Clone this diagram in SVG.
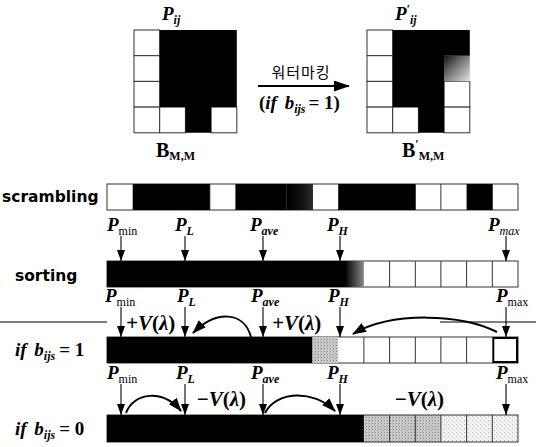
<svg xmlns="http://www.w3.org/2000/svg" width="536" height="447" viewBox="0 0 536 447">
<style>
.cell{fill:#fff;stroke:#333;stroke-width:1}
.blk{fill:#000}
.pl{font-family:"Liberation Serif",serif;font-weight:bold;font-style:italic;font-size:19px;fill:#000}
.sr{font-style:normal;font-weight:normal;font-size:12px}
.si{font-size:12px}
.row{font-family:"DejaVu Sans","Liberation Sans",sans-serif;font-weight:bold;font-size:15.5px;fill:#000}
.vl{font-family:"Liberation Serif",serif;font-weight:bold;font-style:italic;font-size:21px;fill:#000}
.up{font-style:normal}
.kr{font-family:"Noto Sans CJK KR","Noto Sans",sans-serif;font-size:15px;fill:#000}
.bm{font-family:"Liberation Serif",serif;font-weight:bold;font-size:20px;fill:#000}
.bms{font-size:12px}
.con line,.con path{stroke:#000;stroke-width:1.1;fill:none}
.con .cv{stroke-width:2}
.sep{stroke:#555;stroke-width:1}
</style>
<defs>
<marker id="ah" markerUnits="userSpaceOnUse" markerWidth="8" markerHeight="11" refX="4" refY="11" orient="0" viewBox="0 0 8 11">
<path d="M0,0 L8,0 L4,11 Z" fill="#000"/>
</marker>
<marker id="ac" markerUnits="userSpaceOnUse" markerWidth="14" markerHeight="10" refX="13" refY="5" orient="auto" viewBox="0 0 14 10">
<path d="M0,0 L14,5 L0,10 Z" fill="#000"/>
</marker>
<marker id="abig" markerUnits="userSpaceOnUse" markerWidth="16" markerHeight="11" refX="15" refY="5.5" orient="auto" viewBox="0 0 16 11">
<path d="M0,0 L16,5.5 L0,11 Z" fill="#000"/>
</marker>
<linearGradient id="gcell" x1="0" y1="0" x2="1" y2="1">
<stop offset="0" stop-color="#111"/>
<stop offset="0.45" stop-color="#777"/>
<stop offset="1" stop-color="#e4e4e4"/>
</linearGradient>
<linearGradient id="gsort" x1="0" y1="0" x2="1" y2="0">
<stop offset="0" stop-color="#000"/>
<stop offset="1" stop-color="#8a8a8a"/>
</linearGradient>
<linearGradient id="gscr" x1="0" y1="0" x2="1" y2="0">
<stop offset="0" stop-color="#000"/>
<stop offset="0.6" stop-color="#111"/>
<stop offset="1" stop-color="#2e2e2e"/>
</linearGradient>
<pattern id="dmid" width="3" height="3" patternUnits="userSpaceOnUse">
<rect width="3" height="3" fill="#cfcfcf"/>
<rect width="1" height="1" fill="#7a7a7a"/>
<rect x="2" y="1.5" width="1" height="1" fill="#9a9a9a"/>
</pattern>
<pattern id="dlight" width="4" height="4" patternUnits="userSpaceOnUse">
<rect width="4" height="4" fill="#f3f3f3"/>
<rect width="1" height="1" fill="#b5b5b5"/>
<rect x="2" y="2" width="1" height="1" fill="#cccccc"/>
</pattern>
</defs>
<rect width="536" height="447" fill="#fff"/>

<g id="grid-left">
<rect class="cell" x="134" y="30" width="25.7" height="25.7"/>
<rect class="cell" x="134" y="55.7" width="25.7" height="25.7"/>
<rect class="cell" x="134" y="81.4" width="25.7" height="25.7"/>
<rect class="cell" x="134" y="107.1" width="25.7" height="25.7"/>
<rect class="cell" x="159.7" y="107.1" width="25.7" height="25.7"/>
<rect class="cell" x="211.1" y="107.1" width="25.7" height="25.7"/>
<path class="blk" d="M159.7 30 H236.8 V107.1 H211.1 V132.8 H185.4 V107.1 H159.7 Z"/>
<text class="pl" x="162" y="20">P<tspan class="si" dy="4">ij</tspan></text>
<text class="bm" x="156" y="157">B<tspan class="bms" dy="3">M,M</tspan></text>
</g>

<g id="watermark-label">
<text class="kr" x="301" y="78" text-anchor="middle" letter-spacing="1">워터마킹</text>
<text class="pl" x="259" y="109"><tspan class="up">(</tspan>if <tspan dx="3">b</tspan><tspan class="si" dy="4">ijs</tspan><tspan class="up" dy="-4" dx="3">= 1)</tspan></text>
</g>

<g id="grid-right">
<rect class="cell" x="367" y="30" width="25.7" height="25.7"/>
<rect class="cell" x="367" y="55.7" width="25.7" height="25.7"/>
<rect class="cell" x="367" y="81.4" width="25.7" height="25.7"/>
<rect class="cell" x="367" y="107.1" width="25.7" height="25.7"/>
<rect class="cell" x="392.7" y="107.1" width="25.7" height="25.7"/>
<rect class="cell" x="444.1" y="81.4" width="25.7" height="25.7"/>
<rect class="cell" x="444.1" y="107.1" width="25.7" height="25.7"/>
<rect x="444.1" y="55.7" width="25.7" height="25.7" fill="url(#gcell)"/>
<path class="blk" d="M392.7 30 H469.8 V55.7 H444.1 V132.8 H418.4 V107.1 H392.7 Z"/>
<text class="pl" x="395" y="20">P<tspan class="si" dy="-7">′</tspan><tspan class="si" dy="11">ij</tspan></text>
<text class="bm" x="402" y="157">B<tspan class="bms" dy="-9">′</tspan><tspan class="bms" dy="12">M,M</tspan></text>
</g>

<g id="row-scrambling">
<text class="row" x="2" y="202">scrambling</text>
<rect class="cell" x="107" y="184" width="411" height="26"/>
<path stroke="#333" stroke-width="1" d="M209.8 184V210M312.5 184V210M415.3 184V210M440.9 184V210M492.3 184V210"/>
<rect class="blk" x="132.7" y="184" width="77.1" height="26"/>
<rect class="blk" x="235.4" y="184" width="51.4" height="26"/>
<rect x="286.8" y="184" width="25.7" height="26" fill="url(#gscr)"/>
<rect class="blk" x="338.2" y="184" width="77.1" height="26"/>
<rect class="blk" x="466.6" y="184" width="25.7" height="26"/>
</g>

<g id="row-sorting">
<text class="row" x="15" y="281">sorting</text>
<rect class="cell" x="107" y="261" width="411" height="26"/>
<path stroke="#333" stroke-width="1" d="M389.6 261V287M415.3 261V287M440.9 261V287M466.6 261V287M492.3 261V287"/>
<rect class="blk" x="107" y="261" width="238" height="26"/>
<rect x="345" y="261" width="18.9" height="26" fill="url(#gsort)"/>
</g>

<g id="row-b1">
<text class="pl" x="15" y="356">if <tspan dx="3">b</tspan><tspan class="si" dy="4">ijs</tspan><tspan class="up" dy="-4" dx="4">= 1</tspan></text>
<rect class="cell" x="107" y="337" width="411" height="26"/>
<path stroke="#333" stroke-width="1" d="M363.9 337V363M389.6 337V363M415.3 337V363M440.9 337V363M466.6 337V363"/>
<rect class="blk" x="107" y="337" width="205.5" height="26"/>
<rect x="312.5" y="337" width="25.7" height="26" fill="url(#dmid)"/>
<rect x="493.3" y="338" width="23.7" height="24" fill="none" stroke="#000" stroke-width="2"/>
</g>

<g id="row-b0">
<text class="pl" x="15" y="435">if <tspan dx="3">b</tspan><tspan class="si" dy="4">ijs</tspan><tspan class="up" dy="-4" dx="4">= 0</tspan></text>
<rect x="363.9" y="415" width="77" height="27" fill="url(#dmid)"/>
<rect x="440.9" y="415" width="77.1" height="27" fill="url(#dlight)"/>
<rect x="107" y="415" width="411" height="27" fill="none" stroke="#333"/>
<path stroke="#333" stroke-width="1" d="M389.6 415V442M415.3 415V442M440.9 415V442M466.6 415V442M492.3 415V442"/>
<rect class="blk" x="107" y="415" width="256.9" height="27"/>
</g>

<g id="labels-1">
<text class="pl" x="107" y="231">P<tspan class="sr" dy="4">min</tspan></text>
<text class="pl" x="175" y="231">P<tspan class="si" dy="4">L</tspan></text>
<text class="pl" x="250" y="231">P<tspan class="si" dy="4">ave</tspan></text>
<text class="pl" x="327" y="231">P<tspan class="si" dy="4">H</tspan></text>
<text class="pl" x="488" y="231">P<tspan class="si" dy="4" font-weight="normal">max</tspan></text>
</g>

<g id="labels-2">
<text class="pl" x="105" y="302">P<tspan class="sr" dy="4">min</tspan></text>
<text class="pl" x="177" y="302">P<tspan class="si" dy="4">L</tspan></text>
<text class="pl" x="251" y="302">P<tspan class="si" dy="4">ave</tspan></text>
<text class="pl" x="328" y="302">P<tspan class="si" dy="4">H</tspan></text>
<text class="pl" x="496" y="302">P<tspan class="sr" dy="4">max</tspan></text>
<text class="vl" x="126" y="330">+V<tspan class="up">(</tspan>λ<tspan class="up">)</tspan></text>
<text class="vl" x="272" y="330">+V<tspan class="up">(</tspan>λ<tspan class="up">)</tspan></text>
</g>

<g id="labels-3">
<text class="pl" x="107" y="379">P<tspan class="sr" dy="4">min</tspan></text>
<text class="pl" x="176" y="379">P<tspan class="si" dy="4">L</tspan></text>
<text class="pl" x="251" y="379">P<tspan class="si" dy="4">ave</tspan></text>
<text class="pl" x="327" y="379">P<tspan class="si" dy="4">H</tspan></text>
<text class="pl" x="496" y="379">P<tspan class="sr" dy="4">max</tspan></text>
<text class="vl" x="196" y="406">−V<tspan class="up">(</tspan>λ<tspan class="up">)</tspan></text>
<text class="vl" x="394" y="406">−V<tspan class="up">(</tspan>λ<tspan class="up">)</tspan></text>
</g>

<g id="connectors" class="con">
<line class="sep" x1="0" y1="322" x2="107" y2="322"/>
<line class="sep" x1="440" y1="322" x2="536" y2="322"/>
<line class="cv" x1="258" y1="86" x2="349" y2="86" marker-end="url(#abig)"/>
<line x1="121" y1="236" x2="121" y2="261" marker-end="url(#ah)"/>
<line x1="185" y1="236" x2="185" y2="261" marker-end="url(#ah)"/>
<line x1="263" y1="236" x2="263" y2="261" marker-end="url(#ah)"/>
<line x1="340" y1="236" x2="340" y2="261" marker-end="url(#ah)"/>
<line x1="506" y1="236" x2="506" y2="261" marker-end="url(#ah)"/>
<line x1="121" y1="307" x2="121" y2="337" marker-end="url(#ah)"/>
<line x1="185" y1="307" x2="185" y2="337" marker-end="url(#ah)"/>
<line x1="263" y1="307" x2="263" y2="337" marker-end="url(#ah)"/>
<line x1="340" y1="307" x2="340" y2="337" marker-end="url(#ah)"/>
<line x1="506" y1="307" x2="506" y2="337" marker-end="url(#ah)"/>
<line x1="121" y1="384" x2="121" y2="415" marker-end="url(#ah)"/>
<line x1="185" y1="384" x2="185" y2="415" marker-end="url(#ah)"/>
<line x1="263" y1="384" x2="263" y2="415" marker-end="url(#ah)"/>
<line x1="340" y1="384" x2="340" y2="415" marker-end="url(#ah)"/>
<line x1="506" y1="384" x2="506" y2="415" marker-end="url(#ah)"/>
<path class="cv" d="M251 337 C244 311 216 310 193 333" marker-end="url(#ac)"/>
<path class="cv" d="M497 332 C462 314 392 311 353 334" marker-end="url(#ac)"/>
<path class="cv" d="M126 413 C134 392 163 389 181 411" marker-end="url(#ac)"/>
<path class="cv" d="M265 413 C276 391 313 389 335 411" marker-end="url(#ac)"/>
</g>
</svg>
